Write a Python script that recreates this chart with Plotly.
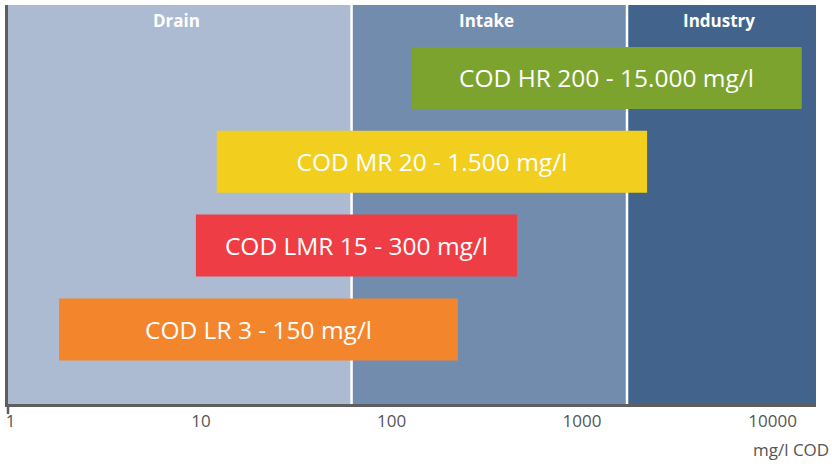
import math
import plotly.graph_objects as go

# Data
products = ["COD LR 3 - 150 mg/l", "COD LMR 15 - 300 mg/l", "COD MR 20 - 1.500 mg/l", "COD HR 200 - 15.000 mg/l"]
bar_start = [1.80, 9.4, 12.1, 127]
bar_end = [223, 456, 2195, 14230]
bar_colors = ["#F3852C", "#EE3D44", "#F2CF1F", "#7BA32E"]

zones = ["Drain", "Intake", "Industry"]
zone_start = [0.97, 61.7, 1722]
zone_end = [61.7, 1722, 17000]
zone_colors = ["#ADBBD2", "#728CAE", "#42648C"]

tick_vals = [1, 10, 100, 1000, 10000]
tick_text = ["1", "10", "100", "1000", "10000"]
x_unit = "mg/l COD"

FONT = "Open Sans"

fig = go.Figure()

for i, name in enumerate(products):
    fig.add_trace(go.Bar(
        y=[i], x=[bar_end[i] - bar_start[i]], base=[bar_start[i]],
        orientation="h", width=0.74,
        marker=dict(color=bar_colors[i], line=dict(width=0)),
        text=[name], textposition="inside", insidetextanchor="middle",
        textfont=dict(family=FONT, size=24.5, color="white"),
        hoverinfo="skip", showlegend=False,
    ))

x_lo, x_hi = -0.0131, 4.228
x_min = 10 ** x_lo
x_max = 10 ** x_hi

for i, z in enumerate(zones):
    fig.add_vrect(x0=zone_start[i], x1=min(zone_end[i], x_max), fillcolor=zone_colors[i],
                  opacity=1, layer="below", line=dict(width=0))
    lo = math.log10(max(zone_start[i], x_min))
    hi = math.log10(min(zone_end[i], x_max))
    fig.add_annotation(x=(lo + hi) / 2 - 0.015, y=0.962, xref="x", yref="paper",
                       yanchor="middle", text="<b>%s</b>" % z, showarrow=False,
                       font=dict(family=FONT, size=17, color="white"))

# white separators between zones
for b in zone_end[:-1]:
    fig.add_vline(x=b, line=dict(color="white", width=2.5), layer="below")

# small extension of the left axis line below the x axis
fig.add_shape(type="line", xref="paper", yref="paper", x0=0, x1=0,
              ysizemode="pixel", yanchor=0, y0=0, y1=-10,
              line=dict(color="#5E5E5E", width=2.5))

fig.add_annotation(x=1, y=0, xref="paper", yref="paper", xanchor="right", yanchor="top",
                   xshift=15, yshift=-32, text=x_unit, showarrow=False,
                   font=dict(family=FONT, size=17, color="#555555"))

fig.update_layout(
    width=832, height=466,
    margin=dict(l=8, r=16, t=5, b=62),
    paper_bgcolor="white", plot_bgcolor="white",
    barmode="overlay",
    xaxis=dict(type="log", range=[x_lo, x_hi], tickvals=tick_vals, ticktext=tick_text,
               showgrid=False, zeroline=False, showline=True, linecolor="#5E5E5E", linewidth=2.5,
               ticks="", ticklen=0, tickfont=dict(family=FONT, size=17, color="#555555")),
    yaxis=dict(range=[-0.89, 3.87], showgrid=False, zeroline=False, showticklabels=False,
               showline=True, linecolor="#5E5E5E", linewidth=2.5, ticks=""),
)

fig.write_html("out.html", config={"displayModeBar": False},
               post_script="document.body.style.margin='0';")
